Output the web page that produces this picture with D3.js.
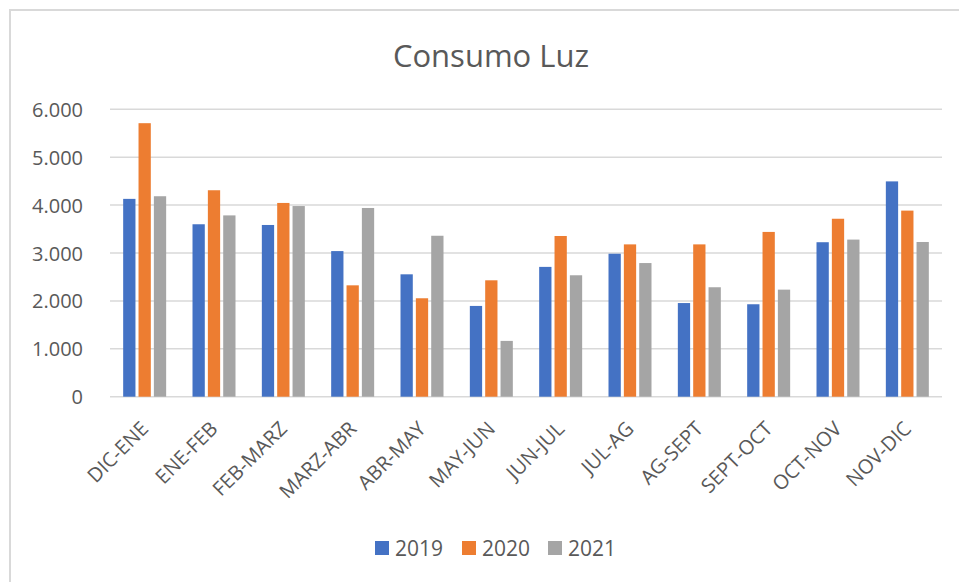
<!DOCTYPE html>
<html>
<head>
<meta charset="utf-8">
<script src="https://cdn.jsdelivr.net/npm/d3@7"></script>
<style>
  body { margin: 0; background: #fff; }
  svg text { font-family: "Open Sans", sans-serif; fill: #595959; }
</style>
</head>
<body>
<div id="chart"></div>
<script>
// Consumo de luz por periodo (bimestral), tres años.
const categories = ["DIC-ENE", "ENE-FEB", "FEB-MARZ", "MARZ-ABR", "ABR-MAY", "MAY-JUN",
                    "JUN-JUL", "JUL-AG", "AG-SEPT", "SEPT-OCT", "OCT-NOV", "NOV-DIC"];
const years = ["2019", "2020", "2021"];
const values2019 = [4130, 3600, 3585, 3040, 2555, 1895, 2710, 2985, 1955, 1930, 3225, 4495];
const values2020 = [5710, 4310, 4045, 2325, 2055, 2430, 3355, 3180, 3180, 3440, 3715, 3885];
const values2021 = [4185, 3785, 3980, 3940, 3360, 1165, 2535, 2790, 2285, 2235, 3280, 3230];
const yTicks = [0, 1000, 2000, 3000, 4000, 5000, 6000];
const colors = ["#4472C4", "#ED7D31", "#A5A5A5"];

const series = [values2019, values2020, values2021];
const W = 959, H = 582;

const svg = d3.select("#chart").append("svg")
    .attr("width", W).attr("height", H);

// chart frame (only left and top edges show inside the picture)
svg.append("rect")
    .attr("x", 10).attr("y", 10)
    .attr("width", 1000).attr("height", 1000)
    .attr("fill", "#fff")
    .attr("stroke", "#D9D9D9")
    .attr("stroke-width", 2);

// title
svg.append("text")
    .attr("x", 491).attr("y", 67)
    .attr("text-anchor", "middle")
    .style("font-size", "31px")
    .text("Consumo Luz");

// scales
const x0 = d3.scaleBand().domain(categories).range([110, 942])
    .paddingInner(0.38).paddingOuter(0.19);
const x1 = d3.scaleBand().domain(years).range([0, x0.bandwidth()])
    .paddingInner(0.2);
const y = d3.scaleLinear().domain([0, 6000]).range([396.7, 109.3]);

const loc = d3.formatLocale({ decimal: ",", thousands: ".", grouping: [3], currency: ["", "€"] });
const fmt = loc.format(",");

// gridlines
svg.append("g")
    .selectAll("line")
    .data(yTicks)
    .join("line")
    .attr("x1", 110).attr("x2", 942)
    .attr("y1", d => y(d)).attr("y2", d => y(d))
    .attr("stroke", "#D9D9D9")
    .attr("stroke-width", 1.5);

// y axis labels
const yAxis = d3.axisLeft(y).tickValues(yTicks).tickFormat(fmt).tickSize(0).tickPadding(0);
const gy = svg.append("g").attr("transform", "translate(83,0)").call(yAxis);
gy.select(".domain").remove();
gy.selectAll("text")
    .style("font-size", "20px")
    .style("font-family", "'Open Sans', sans-serif")
    .attr("fill", "#595959")
    .attr("dy", "0.35em");

// bars
const groups = svg.append("g")
    .selectAll("g")
    .data(categories)
    .join("g")
    .attr("transform", d => `translate(${x0(d)},0)`);

groups.selectAll("rect")
    .data((d, i) => years.map((yr, k) => ({ yr: yr, k: k, v: series[k][i] })))
    .join("rect")
    .attr("x", d => x1(d.yr))
    .attr("width", x1.bandwidth())
    .attr("y", d => y(d.v))
    .attr("height", d => y(0) - y(d.v))
    .attr("fill", d => colors[d.k]);

// x axis labels, rotated
const xAxis = d3.axisBottom(x0).tickSize(0).tickPadding(0);
const gx = svg.append("g").attr("transform", "translate(0,397)").call(xAxis);
gx.select(".domain").remove();
gx.selectAll("text")
    .style("font-size", "20px")
    .style("font-family", "'Open Sans', sans-serif")
    .attr("fill", "#595959")
    .attr("text-anchor", "end")
    .attr("dy", 0)
    .attr("y", 0)
    .attr("transform", "translate(5,33) rotate(-45)");

// legend
const legendX = [375, 462, 548];
const legend = svg.append("g")
    .selectAll("g")
    .data(years)
    .join("g")
    .attr("transform", (d, i) => `translate(${legendX[i]},541)`);
legend.append("rect")
    .attr("width", 14).attr("height", 14)
    .attr("fill", (d, i) => colors[i]);
legend.append("text")
    .attr("x", 20).attr("y", 15)
    .style("font-size", "21px")
    .text(d => d);
</script>
</body>
</html>
